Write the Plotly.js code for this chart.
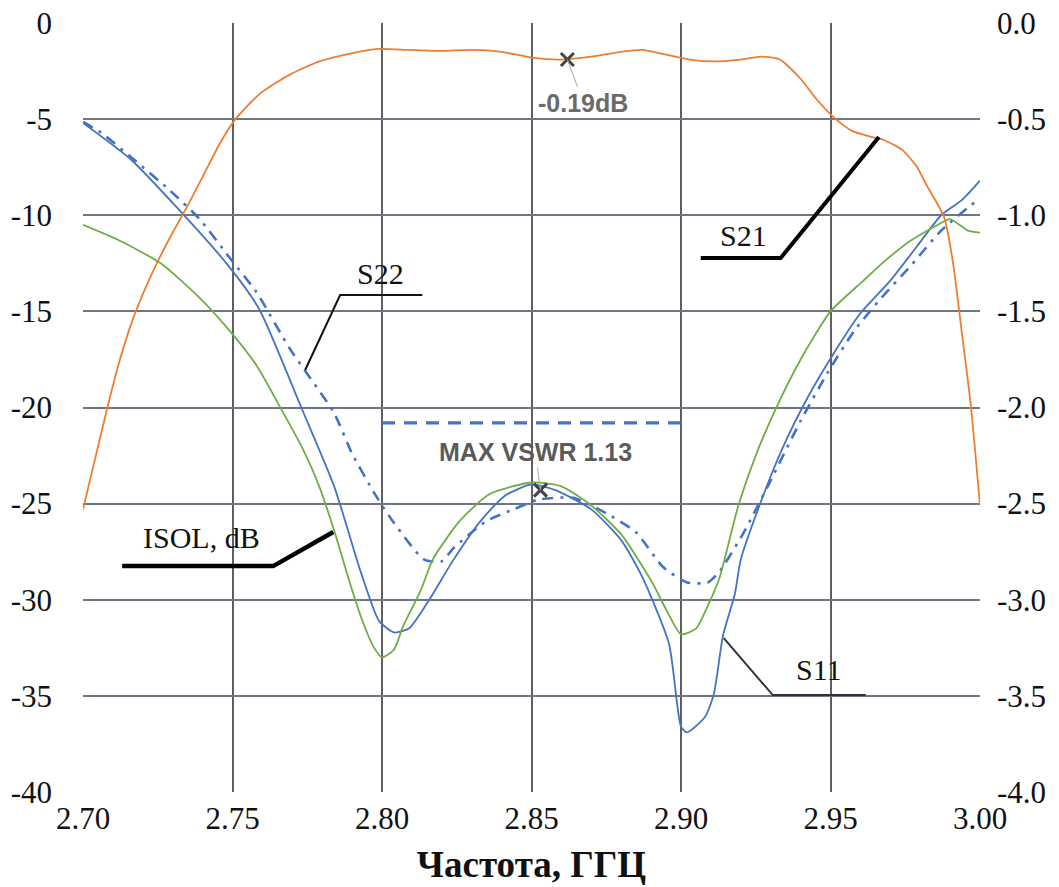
<!DOCTYPE html>
<html><head><meta charset="utf-8">
<script src="https://cdn.plot.ly/plotly-3.0.1.min.js"></script>
<style>html,body{margin:0;padding:0;background:#fff}#chart{width:1059px;height:887px}</style>
</head><body><div id="chart"></div>
<script>
// S21 (right axis, dB)
const s21F = [2.700,2.704,2.708,2.712,2.716,2.720,2.725,2.730,2.735,2.740,2.746,2.751,2.759,2.769,2.779,2.789,2.799,2.809,2.820,2.830,2.840,2.850,2.860,2.870,2.880,2.887,2.895,2.903,2.911,2.920,2.927,2.933,2.940,2.945,2.951,2.957,2.963,2.968,2.974,2.979,2.982,2.985,2.988,2.991,2.994,2.997,3.000];
const s21Db = [-2.53,-2.27,-2.01,-1.77,-1.57,-1.41,-1.24,-1.09,-0.95,-0.80,-0.62,-0.50,-0.37,-0.27,-0.20,-0.16,-0.135,-0.14,-0.145,-0.14,-0.15,-0.18,-0.19,-0.175,-0.15,-0.14,-0.165,-0.19,-0.20,-0.19,-0.175,-0.19,-0.29,-0.39,-0.49,-0.56,-0.59,-0.61,-0.66,-0.75,-0.84,-0.92,-1.01,-1.25,-1.62,-2.00,-2.51];
// S11 (left axis, dB)
const s11F = [2.700,2.716,2.732,2.749,2.759,2.773,2.784,2.793,2.799,2.804,2.809,2.815,2.824,2.833,2.841,2.850,2.858,2.870,2.880,2.887,2.896,2.900,2.902,2.908,2.911,2.914,2.918,2.920,2.926,2.934,2.943,2.951,2.960,2.970,2.979,2.987,2.994,3.000];
const s11Db = [-5.2,-7.1,-9.7,-12.7,-14.9,-20.0,-24.1,-28.6,-31.1,-31.7,-31.5,-30.2,-27.9,-25.9,-24.6,-24.0,-24.3,-25.3,-26.9,-28.8,-32.3,-36.6,-36.9,-36.1,-34.9,-31.9,-29.7,-27.9,-25.2,-22.1,-19.3,-17.2,-15.1,-13.4,-11.6,-10.0,-9.2,-8.2];
// S22 (left axis, dB)
const s22F = [2.700,2.706,2.717,2.729,2.739,2.749,2.758,2.769,2.784,2.790,2.798,2.804,2.814,2.820,2.824,2.835,2.844,2.852,2.864,2.875,2.885,2.894,2.902,2.909,2.913,2.921,2.929,2.940,2.949,2.958,2.967,2.977,2.987,3.000];
const s22Db = [-5.15,-5.7,-7.1,-8.7,-10.2,-12.2,-14.0,-16.9,-20.3,-22.4,-24.6,-26.0,-27.9,-28.0,-27.3,-25.9,-25.3,-24.8,-24.7,-25.5,-26.5,-28.3,-29.1,-29.1,-28.5,-26.5,-24.1,-20.7,-18.2,-16.0,-14.3,-12.6,-10.8,-9.1];
// ISOL (left axis, dB)
const isoF = [2.700,2.712,2.726,2.739,2.749,2.758,2.766,2.773,2.779,2.784,2.789,2.793,2.797,2.800,2.804,2.807,2.813,2.817,2.826,2.836,2.850,2.860,2.870,2.880,2.890,2.896,2.900,2.905,2.909,2.913,2.919,2.925,2.931,2.940,2.950,2.961,2.968,2.977,2.987,2.990,2.996,3.000];
const isoDb = [-10.5,-11.3,-12.5,-14.3,-16.0,-17.8,-20.0,-22.0,-24.1,-26.4,-29.0,-30.9,-32.4,-33.0,-32.6,-31.4,-29.5,-27.9,-25.9,-24.5,-23.9,-24.1,-25.1,-26.6,-29.0,-30.8,-31.8,-31.5,-30.3,-28.8,-25.2,-22.5,-20.3,-17.5,-15.0,-13.4,-12.4,-11.3,-10.4,-10.2,-10.8,-10.9];
// MAX VSWR limit line
const vswrF = [2.80, 2.90];
const vswrDb = [-20.8, -20.8];
// markers
const s21MarkF = [2.862], s21MarkDb = [-0.19];
const s11MarkF = [2.853], s11MarkDb = [-24.3];
// ticks
const xTicks = [2.70,2.75,2.80,2.85,2.90,2.95,3.00];
const xTickText = ["2.70","2.75","2.80","2.85","2.90","2.95","3.00"];
const yTicks = [0,-5,-10,-15,-20,-25,-30,-35,-40];
const yTickText = ["0","-5","-10","-15","-20","-25","-30","-35","-40"];
const y2Ticks = [0,-0.5,-1,-1.5,-2,-2.5,-3,-3.5,-4];
const y2TickText = ["0.0","-0.5","-1.0","-1.5","-2.0","-2.5","-3.0","-3.5","-4.0"];

const BLUE='#4472C4', ORANGE='#ED7D31', GREEN='#70AD47';
const serif = 'Liberation Serif';
const sans = 'Liberation Sans';

const traces = [
  {x:s22F, y:s22Db, mode:'lines', line:{color:BLUE, width:2.6, dash:'11px,7px,3px,7px', shape:'spline', smoothing:0.6}},
  {x:s11F, y:s11Db, mode:'lines', line:{color:BLUE, width:1.8, shape:'spline', smoothing:0.6}},
  {x:isoF, y:isoDb, mode:'lines', line:{color:GREEN, width:1.8, shape:'spline', smoothing:0.6}},
  {x:vswrF, y:vswrDb, mode:'lines', line:{color:BLUE, width:3.2, dash:'13px,9px'}},
  {x:s21F, y:s21Db, yaxis:'y2', mode:'lines', line:{color:ORANGE, width:1.8, shape:'spline', smoothing:0.6}},
  {x:s21MarkF, y:s21MarkDb, yaxis:'y2', mode:'markers', marker:{symbol:'x-thin-open', size:13, color:'#444', line:{color:'#444', width:3}}},
  {x:s11MarkF, y:s11MarkDb, mode:'markers', marker:{symbol:'x-thin-open', size:13, color:'#444', line:{color:'#444', width:3}}}
];

function seg(pts){ return 'M ' + pts.map(p=>p[0]+','+p[1]).join(' L '); }

const shapes = [
  {type:'path', xref:'x', yref:'y', path:seg([[2.9066,-12.23],[2.9333,-12.23],[2.9662,-5.93]]), line:{color:'#000', width:4}},
  {type:'path', xref:'x', yref:'y', path:seg([[2.8135,-14.15],[2.7860,-14.15],[2.7743,-18.05]]), line:{color:'#111', width:2}},
  {type:'path', xref:'x', yref:'y', path:seg([[2.7131,-28.25],[2.7636,-28.25],[2.7837,-26.48]]), line:{color:'#000', width:4.5}},
  {type:'path', xref:'x', yref:'y', path:seg([[2.9143,-32.0],[2.9307,-34.96],[2.9618,-34.96]]), line:{color:'#333', width:2}}
];

const lblFont = {family:serif, size:30, color:'#111'};
const annotations = [
  {x:2.921, y:-12.0, xref:'x', yref:'y', text:'S21', showarrow:false, yanchor:'bottom', font:lblFont},
  {x:2.7995, y:-14.0, xref:'x', yref:'y', text:'S22', showarrow:false, yanchor:'bottom', font:lblFont},
  {x:2.7395, y:-27.7, xref:'x', yref:'y', text:'ISOL, dB', showarrow:false, yanchor:'bottom', font:lblFont},
  {x:2.946, y:-34.6, xref:'x', yref:'y', text:'S11', showarrow:false, yanchor:'bottom', font:lblFont},
  {x:s21MarkF[0], y:s21MarkDb[0], xref:'x', yref:'y2', text:'-0.19dB', showarrow:true, arrowhead:0, arrowwidth:1, arrowcolor:'#aaa', ax:16, ay:43, font:{family:sans, size:25, color:'#6a6a6a', weight:'bold'}},
  {x:s11MarkF[0], y:s11MarkDb[0], xref:'x', yref:'y', text:'MAX VSWR 1.13', showarrow:true, arrowhead:0, arrowwidth:1, arrowcolor:'#aaa', ax:-5, ay:-38, font:{family:sans, size:25, color:'#5a5a5a', weight:'bold'}}
];

const tf = {family:serif, size:31, color:'#111'};
const layout = {
  width:1059, height:887,
  margin:{l:83, r:79, t:23, b:95},
  paper_bgcolor:'#fff', plot_bgcolor:'#fff',
  font:{family:serif, size:31, color:'#111'},
  showlegend:false,
  xaxis:{range:[2.70,3.00], tickvals:xTicks, ticktext:xTickText, showgrid:true, gridcolor:'#5f5f5f', gridwidth:2,
         zeroline:false, showline:false, ticks:'', ticklabelstandoff:5,
         tickfont:tf,
         title:{text:'Частота, ГГЦ', font:{family:serif, size:37, color:'#111', weight:'bold'}, standoff:16}},
  yaxis:{range:[-40,0], tickvals:yTicks, ticktext:yTickText, showgrid:true, gridcolor:'#6e7585', gridwidth:2,
         zeroline:false, showline:false, ticks:'', ticklabelstandoff:30,
         tickfont:tf},
  yaxis2:{range:[-4,0], overlaying:'y', side:'right', tickvals:y2Ticks, ticktext:y2TickText, showgrid:false,
          zeroline:false, showline:false, ticks:'', ticklabelstandoff:16,
          tickfont:tf},
  shapes:shapes, annotations:annotations
};

Plotly.newPlot('chart', traces, layout, {staticPlot:true, displayModeBar:false});
</script></body></html>
